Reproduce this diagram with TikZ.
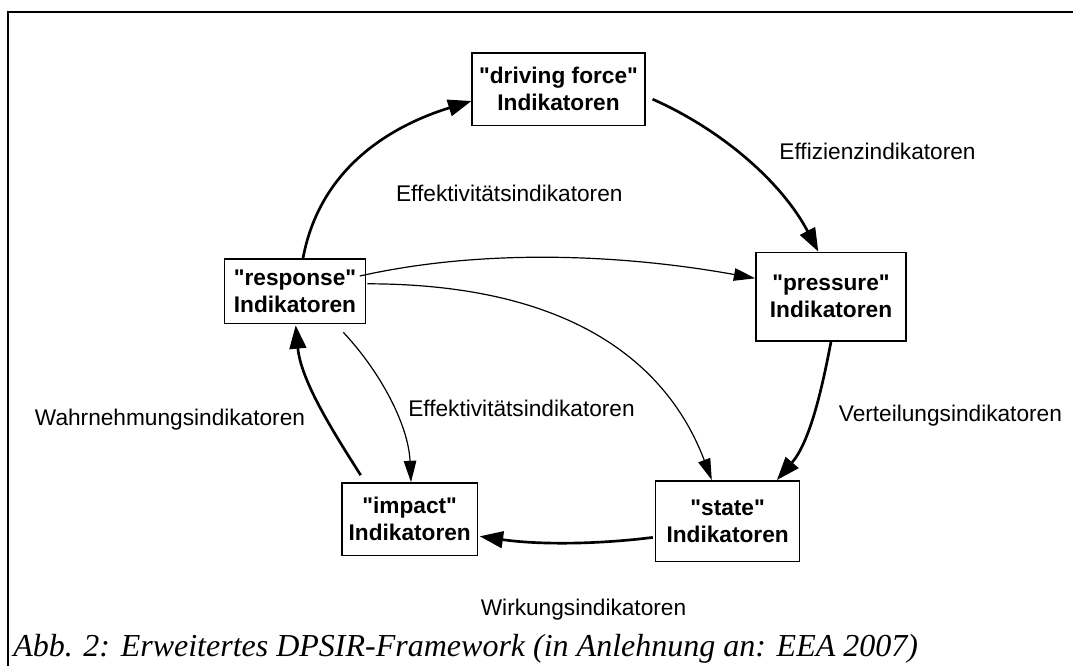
\documentclass[tikz,border=0pt]{standalone}
\usepackage{fontspec}
\setmainfont{Liberation Serif}
\newfontfamily\arialfont{Liberation Sans}
\usetikzlibrary{arrows.meta,calc}
\begin{document}
\begin{tikzpicture}[x=0.75pt,y=-0.75pt,
  box/.style={draw, line width=1.2pt, fill=white, inner sep=0pt, align=center,
    font=\arialfont\bfseries\fontsize{17}{20.25}\selectfont},
  lbl/.style={anchor=base, inner sep=0pt, font=\arialfont\fontsize{17}{20}\selectfont},
  bigarrow/.style={line width=2pt, -{Triangle[length=17.5pt,width=12.5pt]}},
  smallarrow/.style={line width=0.9pt, -{Triangle[length=16pt,width=9.4pt]}}]
\useasboundingbox (0,0) rectangle (1073,666);
\draw[line width=1.9pt] (1073,12) -- (8,12) -- (8,666);

\node[box, minimum width=129.4pt, minimum height=54.2pt] (drive) at (558.5,89.2) {"driving force"\\Indikatoren};
\node[box, minimum width=105.8pt, minimum height=48.3pt] (resp) at (295,291.3) {"response"\\Indikatoren};
\node[box, minimum width=112.5pt, minimum height=66.3pt] (press) at (831,296.6) {"pressure"\\Indikatoren};
\node[box, minimum width=108pt, minimum height=60.5pt] (state) at (727.6,521.2) {"state"\\Indikatoren};
\node[box, minimum width=101.6pt, minimum height=54.5pt] (impact) at (409.7,519.3) {"impact"\\Indikatoren};

\node[lbl] (l1) at (509.3,201.7) {Effektivitätsindikatoren};
\node[lbl] (l2) at (877.5,160) {Effizienzindikatoren};
\node[lbl] (l3) at (170,425) {Wahrnehmungsindikatoren};
\node[lbl] (l4) at (521.5,416.7) {Effektivitätsindikatoren};
\node[lbl] (l5) at (950.4,421) {Verteilungsindikatoren};
\node[lbl] (l6) at (583.5,615) {Wirkungsindikatoren};

\node[anchor=base west, inner sep=0pt, font=\itshape\fontsize{24}{28}\selectfont] (cap) at (13,656.5)
  {Abb. 2: Erweitertes DPSIR-Framework (in Anlehnung an: EEA 2007)};

\draw[bigarrow] ($(resp.north)+(8,0)$) .. controls (319.2,171.1) and (386.3,127.4) .. ($(drive.west)+(0,11.8)$);
\draw[bigarrow] ($(drive.east)+(7,10)$) .. controls (722.8,130.3) and (782.3,183) .. ($(press.north)+(-12.7,0)$);
\draw[bigarrow] (press.south) .. controls (821.7,390.7) and (809.6,442.3) .. ($(state.north)+(49.3,0)$);
\draw[bigarrow] ($(state.west)+(-2,16.2)$) .. controls (595,544.7) and (537,544.7) .. ($(impact.east)+(1.5,17)$);
\draw[bigarrow] ($(impact.north)+(-49,-7)$) .. controls (331.4,429.1) and (300.9,380.3) .. ($(resp.south)+(0.7,1)$);

\draw[smallarrow] ($(resp.south)+(48.3,8)$) .. controls (382,373.7) and (408.5,426.3) .. ($(impact.north)+(1.3,0)$);
\draw[smallarrow] ($(resp.east)+(-6.5,-15.3)$) .. controls (487,247.5) and (626.7,255.1) .. ($(press.west)+(0,-18.3)$);
\draw[smallarrow] ($(resp.east)+(1,-7.5)$) .. controls (580,284) and (670,370) .. ($(state.north)+(-15.8,0)$);
\end{tikzpicture}
\end{document}
